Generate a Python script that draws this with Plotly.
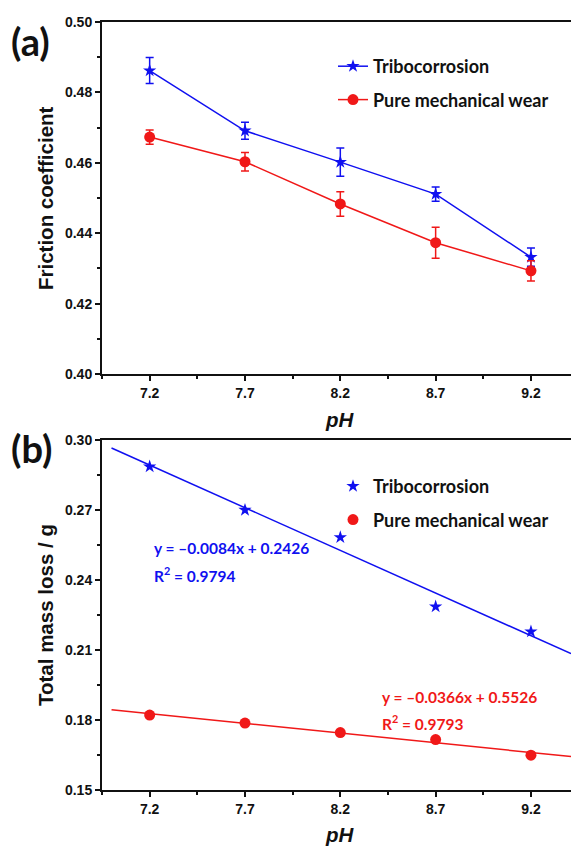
import numpy as np
import plotly.graph_objects as go

# ---------------- data ----------------
ph = [7.2, 7.7, 8.2, 8.7, 9.2]
ph_ticks = ["7.2", "7.7", "8.2", "8.7", "9.2"]

fric_tribo = [0.4862, 0.4691, 0.4602, 0.4511, 0.4332]
fric_tribo_err = [0.0037, 0.0024, 0.0040, 0.0020, 0.0026]
fric_mech = [0.4673, 0.4603, 0.4483, 0.4373, 0.4293]
fric_mech_err = [0.0020, 0.0026, 0.0035, 0.0044, 0.0029]

mass_tribo = [0.2886, 0.2700, 0.2583, 0.2286, 0.2179]
mass_mech = [0.1821, 0.1787, 0.1746, 0.1716, 0.1649]

fit_x_range = [7.0, 9.41]
eq_tribo = ["y = \u20130.0084x + 0.2426", "R<sup>2</sup> = 0.9794"]
eq_mech = ["y = \u20130.0366x + 0.5526", "R<sup>2</sup> = 0.9793"]

BLUE = "#1010f0"
RED = "#f01818"

W, H = 571, 846
ML, MR, MT, MB = 102, 0, 22, 56
plot_h = H - MT - MB
top_dom = [(790 - 374) / plot_h, 1.0]
bot_dom = [0.0, (790 - 440) / plot_h]

fig = go.Figure()

# ---- panel (a) ----
fig.add_trace(go.Scatter(
    x=ph, y=fric_tribo, mode="lines+markers", name="Tribocorrosion",
    line=dict(color=BLUE, width=1.5),
    marker=dict(symbol="star", size=10, color=BLUE),
    error_y=dict(type="data", array=fric_tribo_err, color=BLUE, thickness=1.5, width=4),
    xaxis="x", yaxis="y", legend="legend", legendgroup="a1"))
fig.add_trace(go.Scatter(
    x=ph, y=fric_mech, mode="lines+markers", name="Pure mechanical wear",
    line=dict(color=RED, width=1.5),
    marker=dict(symbol="circle", size=11, color=RED),
    error_y=dict(type="data", array=fric_mech_err, color=RED, thickness=1.5, width=4),
    xaxis="x", yaxis="y", legend="legend", legendgroup="a2"))

# ---- panel (b) ----
fx = np.array(fit_x_range)
for yv, col in [(mass_tribo, BLUE), (mass_mech, RED)]:
    k, b = np.polyfit(ph, yv, 1)
    fig.add_trace(go.Scatter(
        x=fx, y=k * fx + b, mode="lines", line=dict(color=col, width=1.5),
        showlegend=False, hoverinfo="skip", xaxis="x2", yaxis="y2"))
fig.add_trace(go.Scatter(
    x=ph, y=mass_tribo, mode="markers", name="Tribocorrosion",
    marker=dict(symbol="star", size=10, color=BLUE),
    xaxis="x2", yaxis="y2", legend="legend2", legendgroup="b1"))
fig.add_trace(go.Scatter(
    x=ph, y=mass_mech, mode="markers", name="Pure mechanical wear",
    marker=dict(symbol="circle", size=11, color=RED),
    xaxis="x2", yaxis="y2", legend="legend2", legendgroup="b2"))

tick_font = dict(family="Liberation Sans, Arial", size=14, color="#111", weight="bold")
axis_common = dict(showline=True, linecolor="#111", linewidth=2, ticks="outside",
                   ticklen=5, tickwidth=1.5, tickcolor="#111", showgrid=False,
                   zeroline=False, tickfont=tick_font)

xaxis_cfg = dict(range=[6.95, 9.41], tickvals=ph, ticktext=ph_ticks, mirror=True,
                 minor=dict(tickvals=[6.95, 7.45, 7.95, 8.45, 8.95], ticklen=3,
                            tickwidth=1.5, tickcolor="#111", ticks="outside"),
                 **axis_common)

leg_font = dict(family="Lato", size=18, color="#111", weight="bold")
fig.update_layout(
    width=W, height=H, margin=dict(l=ML, r=MR, t=MT, b=MB),
    paper_bgcolor="white", plot_bgcolor="white", showlegend=True,
    xaxis=dict(domain=[0, 1], anchor="y", **xaxis_cfg),
    yaxis=dict(domain=top_dom, anchor="x", range=[0.40, 0.50], dtick=0.02,
               tickformat=".2f",
               minor=dict(dtick=0.01, ticklen=3, tickwidth=1.5, tickcolor="#111",
                          ticks="outside"),
               **axis_common),
    xaxis2=dict(domain=[0, 1], anchor="y2", **xaxis_cfg),
    yaxis2=dict(domain=bot_dom, anchor="x2", range=[0.15, 0.30], dtick=0.03,
                tick0=0.15, tickformat=".2f",
                minor=dict(dtick=0.015, tick0=0.15, ticklen=3, tickwidth=1.5,
                           tickcolor="#111", ticks="outside"),
                **axis_common),
    legend=dict(x=(333 - ML) / (W - ML), y=1 - (48 - MT) / plot_h, xanchor="left",
                yanchor="top", bgcolor="rgba(0,0,0,0)", tracegroupgap=7,
                font=leg_font, itemwidth=30),
    legend2=dict(x=(333 - ML) / (W - ML), y=1 - (468 - MT) / plot_h, xanchor="left",
                 yanchor="top", bgcolor="rgba(0,0,0,0)", tracegroupgap=7,
                 font=leg_font, itemwidth=30),
)

title_font = dict(family="Liberation Sans, Arial", size=20.5, color="#111", weight="bold")
ann = []
# panel labels
for lbl, yy in (("(a)", 41), ("(b)", 448)):
    ann.append(dict(text=lbl, xref="paper", yref="paper", x=0, y=1, xanchor="left",
                    yanchor="middle", xshift=9 - ML, yshift=-(yy - MT), showarrow=False,
                    font=dict(family="Lato", size=38, color="#111", weight="bold")))
# y titles
ann.append(dict(text="Friction coefficient", xref="paper", yref="paper", x=0,
                y=(top_dom[0] + top_dom[1]) / 2, xanchor="center", yanchor="middle",
                xshift=45 - ML, textangle=-90, showarrow=False, font=title_font))
ann.append(dict(text="Total mass loss / g", xref="paper", yref="paper", x=0,
                y=(bot_dom[0] + bot_dom[1]) / 2, xanchor="center", yanchor="middle",
                xshift=45 - ML, textangle=-90, showarrow=False, font=title_font))
# x titles
for yy in (419, 834):
    ann.append(dict(text="<i>pH</i>", xref="x", yref="paper", x=8.2, y=1,
                    xanchor="center", yanchor="middle", yshift=-(yy - MT),
                    showarrow=False, font=title_font))
# equations
eq_font = dict(family="Lato", size=15.5, weight="bold")
for txt, yy in zip(eq_tribo, (548, 574)):
    ann.append(dict(text=txt, xref="paper", yref="paper", x=0, y=1, xanchor="left",
                    yanchor="middle", xshift=152 - ML, yshift=-(yy - MT),
                    showarrow=False, font=dict(color=BLUE, **eq_font)))
for txt, yy in zip(eq_mech, (697, 722)):
    ann.append(dict(text=txt, xref="paper", yref="paper", x=0, y=1, xanchor="left",
                    yanchor="middle", xshift=380 - ML, yshift=-(yy - MT),
                    showarrow=False, font=dict(color=RED, **eq_font)))
fig.update_layout(annotations=ann)

fig.write_html("out.html", config={"displayModeBar": False},
               post_script="document.body.style.margin='0';")
